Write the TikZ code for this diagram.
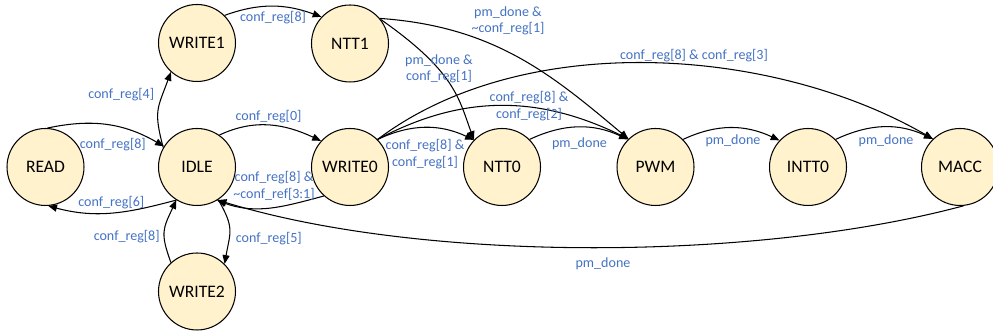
\documentclass[tikz,border=0pt]{standalone}
\usepackage{fontspec}
\setmainfont{Carlito}
\usetikzlibrary{arrows.meta}
\definecolor{statefill}{HTML}{FFF2CC}
\definecolor{condblue}{HTML}{4472C4}
\begin{document}
\begin{tikzpicture}[x=0.02cm,y=0.02cm,
  state/.style={circle, draw=black, line width=0.6pt, fill=statefill,
    minimum size=1.54cm, inner sep=0pt, font=\fontsize{10}{12}\selectfont},
  trans/.style={draw=black, line width=0.6pt, -{Triangle[length=5pt,width=4pt]}},
  cond/.style={text=condblue, font=\fontsize{8}{9.5}\selectfont, align=center, inner sep=0pt}]
\useasboundingbox (0,0) rectangle (993,333);

% states
\node[state] (READ)   at (45.5,166) {READ};
\node[state] (IDLE)   at (197,166)  {IDLE};
\node[state] (WRITE1) at (197,290)  {WRITE1};
\node[state] (WRITE2) at (197,41.5) {WRITE2};
\node[state] (NTT1)   at (350,289.5) {NTT1};
\node[state] (WRITE0) at (350,166)  {WRITE0};
\node[state] (NTT0)   at (502,166)  {NTT0};
\node[state] (PWM)    at (655.5,166) {PWM};
\node[state] (INTT0)  at (808,166)  {INTT0};
\node[state] (MACC)   at (960,166)  {MACC};

% transitions around IDLE
\draw[trans] (READ.87) to[out=12,in=150] (IDLE.148);
\draw[trans] (IDLE.238) to[out=195,in=-15] (READ.274);
\draw[trans] (IDLE.150) to[out=105,in=250,looseness=1.3] (WRITE1.228);
\draw[trans] (WRITE1.45) to[out=20,in=160] (NTT1.137);
\draw[trans] (IDLE.55) to[out=25,in=155] (WRITE0.138);
\draw[trans] (WRITE0.228) to[out=195,in=-20] (IDLE.301);
\draw[trans] (IDLE.-57) to[out=-60,in=80,looseness=1.3] (WRITE2.45);
\draw[trans] (WRITE2.132) to[out=110,in=245,looseness=1.3] (IDLE.238);
\draw[trans] (MACC.275) .. controls +(195:215) and +(-17:215) .. (IDLE.302);

% transitions out of WRITE0
\draw[trans] (WRITE0.45) to[out=25,in=155] (NTT0.136);
\draw[trans] (WRITE0.45) .. controls +(28:98) and +(154:98) .. (PWM.134);
\draw[trans] (WRITE0.45) .. controls +(37:184) and +(150:184) .. (MACC.134);

% transitions out of NTT1
\draw[trans] (NTT1.38) .. controls +(-35:90) and +(110:45) .. (NTT0.136);
\draw[trans] (NTT1.40) .. controls +(-4:115) and +(140:100) .. (PWM.134);

% pipeline
\draw[trans] (NTT0.45) to[out=25,in=155] (PWM.135);
\draw[trans] (PWM.45) to[out=25,in=155] (INTT0.137);
\draw[trans] (INTT0.45) to[out=25,in=155] (MACC.134);

% conditions
\node[cond] (c1)  at (112.8,188.3) {conf\_reg[8]};
\node[cond] (c2)  at (111.3,130)   {conf\_reg[6]};
\node[cond] (c3)  at (121.2,238.3) {conf\_reg[4]};
\node[cond] (c4)  at (273,315)     {conf\_reg[8]};
\node[cond] (c5)  at (268.5,216.2) {conf\_reg[0]};
\node[cond] (c6)  at (274,147)     {conf\_reg[8] \&\\\textasciitilde conf\_ref[3:1]};
\node[cond] (c7)  at (268.8,94)    {conf\_reg[5]};
\node[cond] (c8)  at (126.7,96)    {conf\_reg[8]};
\node[cond] (c9)  at (603,69)      {pm\_done};
\node[cond] (c10) at (425,179)     {conf\_reg[8] \&\\conf\_reg[1]};
\node[cond] (c11) at (529,227)     {conf\_reg[8] \&\\conf\_reg[2]};
\node[cond] (c12) at (694,277.5)   {conf\_reg[8] \& conf\_reg[3]};
\node[cond] (c13) at (439,264.3)   {pm\_done \&\\conf\_reg[1]};
\node[cond] (c14) at (508,312.3)   {pm\_done \&\\\textasciitilde conf\_reg[1]};
\node[cond] (c15) at (579.5,189)   {pm\_done};
\node[cond] (c16) at (733,192)     {pm\_done};
\node[cond] (c17) at (886,192)     {pm\_done};
\end{tikzpicture}
\end{document}
